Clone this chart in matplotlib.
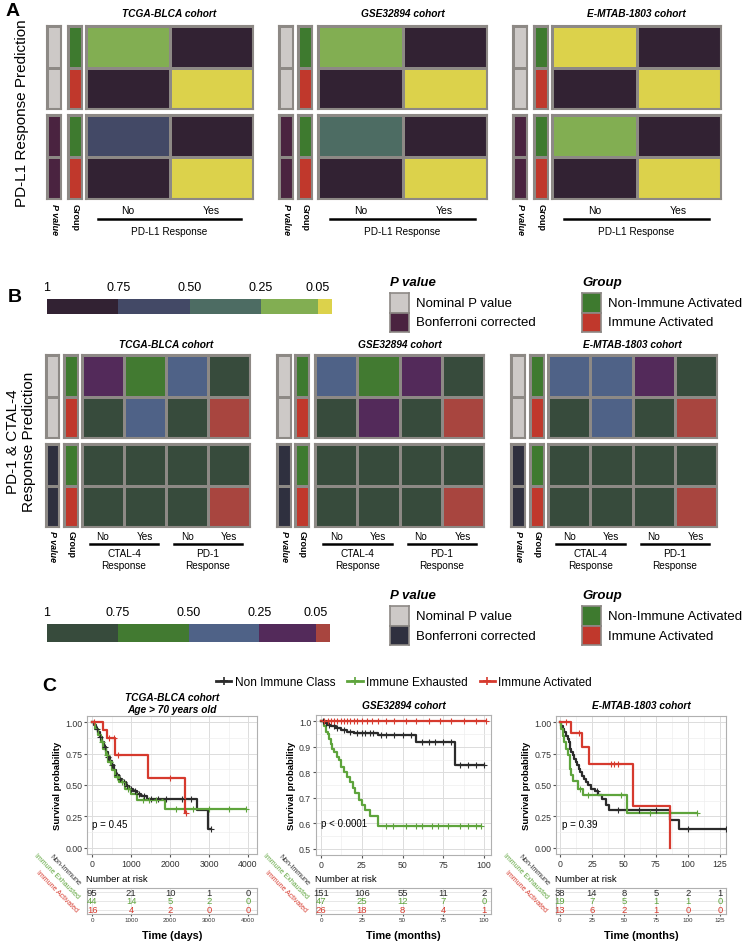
import numpy as np
import matplotlib
matplotlib.use('Agg')
import matplotlib.pyplot as plt
from matplotlib.colors import ListedColormap, BoundaryNorm
from matplotlib.lines import Line2D
import matplotlib.cm as cm

plt.rcParams['font.family'] = ['Liberation Sans', 'DejaVu Sans']

# ---------------- data ----------------
cohorts = ['TCGA-BLCA cohort', 'GSE32894 cohort', 'E-MTAB-1803 cohort']
p_bounds = [0, 0.05, 0.25, 0.50, 0.75, 1.0]
p_ticks = [1, 0.75, 0.50, 0.25, 0.05]
p_tick_labels = ['1', '0.75', '0.50', '0.25', '0.05']
group_names = ['Non-Immune Activated', 'Immune Activated']
pval_names = ['Nominal P value', 'Bonferroni corrected']

# Panel A: rows = [Non-Immune, Immune], cols = PD-L1 response [No, Yes]
pdl1_cols = ['No', 'Yes']
A_nominal = [
    [[0.15, 0.90], [0.90, 0.01]],   # TCGA
    [[0.15, 0.90], [0.90, 0.01]],   # GSE32894
    [[0.01, 0.90], [0.90, 0.01]],   # E-MTAB-1803
]
A_bonf = [
    [[0.60, 0.90], [0.90, 0.01]],
    [[0.40, 0.90], [0.90, 0.01]],
    [[0.15, 0.90], [0.90, 0.01]],
]

# Panel B: cols = [CTAL-4 No, CTAL-4 Yes, PD-1 No, PD-1 Yes]
B_cols = ['No', 'Yes', 'No', 'Yes']
B_groups = ['CTAL-4\nResponse', 'PD-1\nResponse']
B_nominal = [
    [[0.15, 0.60, 0.40, 0.90], [0.90, 0.40, 0.90, 0.01]],
    [[0.40, 0.60, 0.15, 0.90], [0.90, 0.15, 0.90, 0.01]],
    [[0.40, 0.40, 0.15, 0.90], [0.90, 0.40, 0.90, 0.01]],
]
B_bonf = [
    [[0.90, 0.90, 0.90, 0.90], [0.90, 0.90, 0.90, 0.01]],
    [[0.90, 0.90, 0.90, 0.90], [0.90, 0.90, 0.90, 0.01]],
    [[0.90, 0.90, 0.90, 0.90], [0.90, 0.90, 0.90, 0.01]],
]

# Panel C: Kaplan-Meier step data (event times, survival)
km_labels = ['Non Immune Class', 'Immune Exhausted', 'Immune Activated']
tcga_non_t = [0, 50, 100, 150, 200, 250, 300, 350, 400, 450, 500, 560, 620, 700, 780, 860, 950, 1050, 1150, 1250, 1400, 2680, 2980]
tcga_non_s = [1.0, 0.98, 0.95, 0.92, 0.88, 0.84, 0.80, 0.76, 0.72, 0.69, 0.66, 0.62, 0.58, 0.55, 0.52, 0.49, 0.47, 0.45, 0.43, 0.41, 0.39, 0.30, 0.15]
tcga_non_end = 3050
tcga_non_cens = [120, 210, 330, 420, 520, 640, 720, 820, 900, 1000, 1100, 1200, 1320, 1500, 1700, 1900, 2300, 2550, 3050]
tcga_exh_t = [0, 80, 150, 220, 290, 350, 420, 500, 580, 700, 850, 1000, 1150, 1870]
tcga_exh_s = [1.0, 0.95, 0.90, 0.84, 0.79, 0.74, 0.68, 0.62, 0.56, 0.52, 0.47, 0.43, 0.38, 0.31]
tcga_exh_end = 3950
tcga_exh_cens = [260, 380, 460, 640, 760, 930, 1300, 1450, 1650, 2150, 2600, 3000, 3500, 3950]
tcga_act_t = [0, 270, 380, 600, 1440, 2380]
tcga_act_s = [1.0, 0.94, 0.875, 0.74, 0.555, 0.28]
tcga_act_end = 2420
tcga_act_cens = [60, 430, 560, 660, 2000, 2420]

gse_non_t = [0, 2, 4, 6, 9, 12, 16, 20, 35, 58, 82]
gse_non_s = [1.0, 0.993, 0.987, 0.98, 0.974, 0.967, 0.96, 0.955, 0.947, 0.92, 0.83]
gse_non_end = 100
gse_non_cens = [1, 3, 5, 8, 10, 14, 18, 22, 25, 27, 30, 32, 37, 40, 45, 50, 55, 62, 66, 70, 75, 80, 85, 90, 95, 100]
gse_exh_t = [0, 2, 3, 4, 5, 6, 7, 8, 9.5, 11, 12.5, 14, 16, 18, 19.5, 21, 23, 25, 27, 30, 35]
gse_exh_s = [1.0, 0.98, 0.96, 0.95, 0.93, 0.91, 0.89, 0.88, 0.86, 0.85, 0.82, 0.80, 0.78, 0.76, 0.74, 0.72, 0.69, 0.67, 0.65, 0.63, 0.59]
gse_exh_end = 98
gse_exh_cens = [40, 44, 52, 58, 62, 68, 72, 78, 85, 90, 95, 98]
gse_act_t = [0]
gse_act_s = [1.0]
gse_act_end = 101
gse_act_cens = [2, 4, 6, 8, 10, 12, 14, 16, 18, 20, 22, 25, 28, 31, 35, 40, 45, 52, 58, 66, 73, 80, 88, 95, 101]

emtab_non_t = [0, 1, 2.5, 3.5, 5, 6, 7, 8, 9, 10, 11, 12.5, 13.5, 15, 16, 17.5, 19, 20, 22, 24, 27, 30, 33, 36, 38, 86, 93]
emtab_non_s = [1.0, 0.97, 0.95, 0.92, 0.89, 0.87, 0.84, 0.79, 0.76, 0.74, 0.71, 0.68, 0.66, 0.63, 0.60, 0.57, 0.55, 0.52, 0.50, 0.47, 0.45, 0.42, 0.39, 0.34, 0.30, 0.22, 0.15]
emtab_non_end = 130
emtab_non_cens = [29, 45, 62, 75, 100, 130]
emtab_exh_t = [0, 1, 2.5, 3.5, 4.5, 6.5, 7.5, 8, 9, 10, 14, 18, 52]
emtab_exh_s = [1.0, 0.95, 0.89, 0.84, 0.79, 0.74, 0.68, 0.63, 0.58, 0.53, 0.47, 0.42, 0.28]
emtab_exh_end = 107
emtab_exh_cens = [16, 22, 48, 70, 107]
emtab_act_t = [0, 9, 17, 23, 57, 86]
emtab_act_s = [1.0, 0.915, 0.80, 0.67, 0.335, 0.0]
emtab_act_end = 86
emtab_act_cens = [5, 15, 40, 42, 45]

p_texts = ['p = 0.45', 'p < 0.0001', 'p = 0.39']

risk_rows = ['Non-Immune', 'Immune Exhausted', 'Immune Activated']
tcga_risk_t = [0, 1000, 2000, 3000, 4000]
tcga_risk = [[95, 21, 10, 1, 0], [44, 14, 5, 2, 0], [16, 4, 2, 0, 0]]
gse_risk_t = [0, 25, 50, 75, 100]
gse_risk = [[151, 106, 55, 11, 2], [47, 25, 12, 7, 0], [26, 18, 8, 4, 1]]
emtab_risk_t = [0, 25, 50, 75, 100, 125]
emtab_risk = [[38, 14, 8, 5, 2, 1], [19, 7, 5, 1, 1, 0], [13, 6, 2, 1, 0, 0]]

# ---------------- styles ----------------
W, H = 744, 945
fig = plt.figure(figsize=(W / 100, H / 100), dpi=100)

def R(x0, y0, x1, y1):
    return [x0 / W, 1 - y1 / H, (x1 - x0) / W, (y1 - y0) / H]

def T(x, y, s, **kw):
    return fig.text(x / W, 1 - y / H, s, **kw)

EDGE = '#8d8985'
cmapA = ListedColormap(['#dcd24b', '#82ae52', '#4d6c63', '#434966', '#322233'])
cmapB = ListedColormap(['#a8453f', '#532a5a', '#4f6287', '#427a31', '#374b3c'])
normP = BoundaryNorm(p_bounds, 5)
GRAY = '#cdc9c7'
BONF_A = '#4a2340'
BONF_B = '#2f303f'
GREEN = '#3e7a2f'
RED = '#c0382c'
KM_COLORS = ['#2b2b2b', '#5ea43c', '#d63a2e']

def style_cells(ax, nrow, ncol):
    ax.set_xlim(0, ncol)
    ax.set_ylim(nrow, 0)
    ax.set_xticks([])
    ax.set_yticks([])
    for s in ax.spines.values():
        s.set_color(EDGE)
        s.set_linewidth(1.5)

def block(rect, vals, cmap, norm):
    ax = fig.add_axes(R(*rect))
    v = np.array(vals, dtype=float)
    ax.pcolormesh(v, cmap=cmap, norm=norm, edgecolors=EDGE, linewidth=0.9)
    style_cells(ax, v.shape[0], v.shape[1])
    return ax

strip_norm = BoundaryNorm([-0.5, 0.5, 1.5], 2)

def strip(rect, codes, colors):
    ax = fig.add_axes(R(*rect))
    v = np.array(codes, dtype=float).reshape(-1, 1)
    ax.pcolormesh(v, cmap=ListedColormap(colors), norm=strip_norm, edgecolors=EDGE, linewidth=0.9)
    style_cells(ax, v.shape[0], 1)
    return ax

# ---------------- Panel A ----------------
T(6, 12, 'A', fontsize=14, fontweight='bold', va='center')
T(22, 113, 'PD-L1 Response Prediction', fontsize=11, rotation=90, ha='center', va='center')
A_lay = [((47, 61), (68, 82), (86, 253)),
         ((279, 293), (298, 312), (318, 487)),
         ((513, 527), (534, 548), (552, 721))]
A_rows = [(27, 110), (116, 200)]
for k in range(3):
    (p0, p1), (g0, g1), (m0, m1) = A_lay[k]
    for b, (y0, y1) in enumerate(A_rows):
        strip((p0, y0, p1, y1), [b, b], [GRAY, BONF_A])
        strip((g0, y0, g1, y1), [0, 1], [GREEN, RED])
        block((m0, y0, m1, y1), A_nominal[k] if b == 0 else A_bonf[k], cmapA, normP)
    cx = (m0 + m1) / 2
    T(cx, 14, cohorts[k], fontsize=7.3, fontweight='bold', style='italic', ha='center', va='center')
    cw = (m1 - m0) / len(pdl1_cols)
    for j, lab in enumerate(pdl1_cols):
        T(m0 + cw * (j + 0.5), 211, lab, fontsize=7.5, ha='center', va='center')
    fig.add_artist(Line2D([(m0 + 12) / W, (m1 - 12) / W], [1 - 220 / H] * 2, color='black', lw=1.8))
    T(cx, 232, 'PD-L1 Response', fontsize=7.2, ha='center', va='center')
    T((p0 + p1) / 2, 204, 'P value', fontsize=6.5, fontweight='bold', style='italic',
      rotation=-90, ha='center', va='top')
    T((g0 + g1) / 2, 204, 'Group', fontsize=6.5, fontweight='bold', rotation=-90, ha='center', va='top')

# ---------------- legends for B ----------------
def p_colorbar(rect, cmap):
    cax = fig.add_axes(R(*rect))
    sm = cm.ScalarMappable(norm=normP, cmap=cmap)
    cb = fig.colorbar(sm, cax=cax, orientation='horizontal', spacing='proportional', ticks=p_ticks)
    cb.set_ticklabels(p_tick_labels)
    cax.invert_xaxis()
    cb.outline.set_visible(False)
    cax.minorticks_off()
    cax.xaxis.set_ticks_position('top')
    cax.tick_params(which='both', length=0, labelsize=9, pad=4)

def legend_block(x, y, title, names, colors):
    T(x, y, title, fontsize=9.5, fontweight='bold', style='italic', ha='left', va='center')
    for i, (nm, col) in enumerate(zip(names, colors)):
        ax = fig.add_axes(R(x, y + 11 + 19.5 * i, x + 19, y + 30.5 + 19.5 * i))
        ax.set_facecolor(col)
        ax.set_xticks([]); ax.set_yticks([])
        for s in ax.spines.values():
            s.set_color(EDGE); s.set_linewidth(1.2)
        T(x + 26, y + 21 + 19.5 * i, nm, fontsize=9.5, ha='left', va='center')

T(8, 297, 'B', fontsize=14, fontweight='bold', va='center')
p_colorbar((47, 300, 332, 315), cmapA)
legend_block(390, 283, 'P value', pval_names, [GRAY, BONF_A])
legend_block(582, 283, 'Group', group_names, [GREEN, RED])

# ---------------- Panel B ----------------
T(21, 442, 'PD-1 & CTAL-4\nResponse Prediction', fontsize=11, rotation=90, ha='center', va='center',
  linespacing=1.15)
B_lay = [((46, 59), (64, 78), (82, 250)),
         ((277, 291), (295, 309), (315, 484)),
         ((511, 525), (530, 544), (548, 717))]
B_rows = [(356, 439), (445, 528)]
for k in range(3):
    (p0, p1), (g0, g1), (m0, m1) = B_lay[k]
    for b, (y0, y1) in enumerate(B_rows):
        strip((p0, y0, p1, y1), [b, b], [GRAY, BONF_B])
        strip((g0, y0, g1, y1), [0, 1], [GREEN, RED])
        block((m0, y0, m1, y1), B_nominal[k] if b == 0 else B_bonf[k], cmapB, normP)
    cx = (m0 + m1) / 2
    T(cx, 345, cohorts[k], fontsize=7.3, fontweight='bold', style='italic', ha='center', va='center')
    cw = (m1 - m0) / len(B_cols)
    for j, lab in enumerate(B_cols):
        T(m0 + cw * (j + 0.5), 537, lab, fontsize=7.2, ha='center', va='center')
    for g, gl in enumerate(B_groups):
        gx0 = m0 + cw * 2 * g
        fig.add_artist(Line2D([(gx0 + 8) / W, (gx0 + 2 * cw - 8) / W], [1 - 545 / H] * 2,
                              color='black', lw=1.8))
        T(gx0 + cw, 560, gl, fontsize=7.2, ha='center', va='center', linespacing=1.25)
    T((p0 + p1) / 2, 531, 'P value', fontsize=6.5, fontweight='bold', style='italic',
      rotation=-90, ha='center', va='top')
    T((g0 + g1) / 2, 531, 'Group', fontsize=6.5, fontweight='bold', rotation=-90, ha='center', va='top')

p_colorbar((47, 625, 330, 643), cmapB)
legend_block(390, 596, 'P value', pval_names, [GRAY, BONF_B])
legend_block(582, 596, 'Group', group_names, [GREEN, RED])

# ---------------- Panel C ----------------
T(42, 687, 'C', fontsize=14, fontweight='bold', va='center')
handles = [Line2D([], [], color=c, lw=2, marker='+', ms=6, mew=1.2) for c in KM_COLORS]
fig.legend(handles, km_labels, loc='center', bbox_to_anchor=(404 / W, 1 - 683 / H), ncol=3,
           frameon=False, fontsize=8.5, handlelength=1.3, columnspacing=1.0, handletextpad=0.3,
           borderpad=0)

def km(ax, t, s, t_end, cens, color):
    tt = list(t) + [t_end]
    ss = list(s) + [s[-1]]
    ax.step(tt, ss, where='post', color=color, lw=1.6, zorder=3)
    c = np.array(cens, dtype=float)
    idx = np.searchsorted(np.array(t, dtype=float), c, side='right') - 1
    ax.plot(c, np.array(s)[idx], '+', color=color, ms=4, mew=0.8, zorder=4)

def style_surv(ax, xlim, xticks, ylim, yticks, ylabels):
    ax.set_xlim(*xlim)
    ax.set_ylim(*ylim)
    ax.set_xticks(xticks)
    ax.set_xticks([(a + b) / 2 for a, b in zip(xticks[:-1], xticks[1:])], minor=True)
    ax.set_yticks(yticks)
    ax.set_yticklabels(ylabels)
    ax.set_yticks([(a + b) / 2 for a, b in zip(yticks[:-1], yticks[1:])], minor=True)
    ax.grid(which='major', color='#dcdcdc', lw=0.7)
    ax.grid(which='minor', color='#eeeeee', lw=0.5)
    ax.set_axisbelow(True)
    for sp in ax.spines.values():
        sp.set_color('#b0b0b0'); sp.set_linewidth(0.8)
    ax.tick_params(labelsize=6.3, length=2, color='#555555', pad=1.5, labelcolor='#333333')
    ax.tick_params(which='minor', length=0)
    ax.set_ylabel('Survival probability', fontsize=6.8, fontweight='bold', labelpad=2)

def risk_table(rect, xlim, times, counts):
    ax = fig.add_axes(R(*rect))
    ax.set_xlim(*xlim)
    ax.set_ylim(0.5, 3.5)
    for r, row in enumerate(counts):
        for tt, n in zip(times, row):
            ax.text(tt, 3 - r, str(n), color=KM_COLORS[r], fontsize=6.8, ha='center', va='center')
    ax.set_xticks(times)
    ax.set_yticks([1, 2, 3])
    ax.set_yticklabels([])
    ax.grid(color='#e3e3e3', lw=0.6)
    ax.set_axisbelow(True)
    for sp in ax.spines.values():
        sp.set_color('#b0b0b0'); sp.set_linewidth(0.8)
    ax.tick_params(labelsize=4.5, length=1.5, color='#555555', pad=1, labelcolor='#333333')
    ax.tick_params(axis='y', length=0)
    return ax

surv_sets = [
    dict(rect=(87, 717, 257, 855), xlim=(-130, 4230), xticks=[0, 1000, 2000, 3000, 4000],
         ylim=(-0.05, 1.05), yticks=[0, 0.25, 0.5, 0.75, 1.0], ylabels=['0.00', '0.25', '0.50', '0.75', '1.00'],
         curves=[(tcga_non_t, tcga_non_s, tcga_non_end, tcga_non_cens),
                 (tcga_exh_t, tcga_exh_s, tcga_exh_end, tcga_exh_cens),
                 (tcga_act_t, tcga_act_s, tcga_act_end, tcga_act_cens)],
         ptxt=(0, 0.19), risk=(tcga_risk_t, tcga_risk), xlabel='Time (days)',
         title='TCGA-BLCA cohort\nAge > 70 years old', ty=704),
    dict(rect=(316, 716, 491, 856), xlim=(-3.1, 104.3), xticks=[0, 25, 50, 75, 100],
         ylim=(0.475, 1.025), yticks=[0.5, 0.6, 0.7, 0.8, 0.9, 1.0], ylabels=['0.5', '0.6', '0.7', '0.8', '0.9', '1.0'],
         curves=[(gse_non_t, gse_non_s, gse_non_end, gse_non_cens),
                 (gse_exh_t, gse_exh_s, gse_exh_end, gse_exh_cens),
                 (gse_act_t, gse_act_s, gse_act_end, gse_act_cens)],
         ptxt=(0, 0.60), risk=(gse_risk_t, gse_risk), xlabel='Time (months)',
         title='GSE32894 cohort', ty=706),
    dict(rect=(556, 717, 726, 855), xlim=(-3.1, 129.7), xticks=[0, 25, 50, 75, 100, 125],
         ylim=(-0.05, 1.05), yticks=[0, 0.25, 0.5, 0.75, 1.0], ylabels=['0.00', '0.25', '0.50', '0.75', '1.00'],
         curves=[(emtab_non_t, emtab_non_s, emtab_non_end, emtab_non_cens),
                 (emtab_exh_t, emtab_exh_s, emtab_exh_end, emtab_exh_cens),
                 (emtab_act_t, emtab_act_s, emtab_act_end, emtab_act_cens)],
         ptxt=(1.5, 0.19), risk=(emtab_risk_t, emtab_risk), xlabel='Time (months)',
         title='E-MTAB-1803 cohort', ty=706),
]

for k, d in enumerate(surv_sets):
    x0, y0, x1, y1 = d['rect']
    ax = fig.add_axes(R(*d['rect']))
    for (t, s, te, ce), col in zip(d['curves'], KM_COLORS):
        km(ax, t, s, te, ce, col)
    style_surv(ax, d['xlim'], d['xticks'], d['ylim'], d['yticks'], d['ylabels'])
    ax.text(d['ptxt'][0], d['ptxt'][1], p_texts[k], fontsize=7, ha='left', va='center')
    T((x0 + x1) / 2, d['ty'], d['title'], fontsize=7.3, fontweight='bold', style='italic',
      ha='center', va='center', linespacing=1.2)
    risk_table((x0, 889, x1, 915), d['xlim'], *d['risk'])
    T(x0 - 1, 880, 'Number at risk', fontsize=6.8, ha='left', va='center')
    T((x0 + x1) / 2, 936, d['xlabel'], fontsize=7.8, fontweight='bold', ha='center', va='center')
    ends = [(x0 - 8, 885), (x0 - 9, 898), (x0 - 10, 912)]
    for r, nm in enumerate(risk_rows):
        T(ends[r][0], ends[r][1], nm, fontsize=5, color=KM_COLORS[r], rotation=-45,
          rotation_mode='anchor', ha='right', va='center')

fig.savefig('out.png', dpi=100)
